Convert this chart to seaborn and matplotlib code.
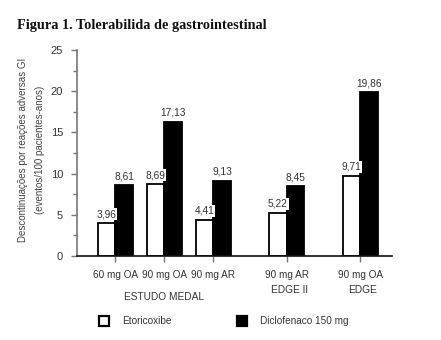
import matplotlib
matplotlib.use("Agg")
import matplotlib.pyplot as plt
import seaborn as sns
import pandas as pd
from matplotlib.lines import Line2D
from matplotlib.transforms import blended_transform_factory

# ---- data ----
groups = ["60 mg OA", "90 mg OA", "90 mg AR", "90 mg AR", "90 mg OA"]
group_pos = [0, 1, 2, 3.5, 5]
etoricoxibe = [3.96, 8.69, 4.41, 5.22, 9.71]
diclofenaco = [8.61, 16.3, 9.13, 8.45, 19.86]
etori_labels = ["3,96", "8,69", "4,41", "5,22", "9,71"]
diclo_labels = ["8,61", "17,13", "9,13", "8,45", "19,86"]
studies = ["ESTUDO MEDAL", "EDGE II", "EDGE"]
study_pos = [1, 3.55, 5.05]
study_y = [-0.20, -0.165, -0.165]
series = ["Etoricoxibe", "Diclofenaco 150 mg"]
yticks = [0, 5, 10, 15, 20, 25]

df = pd.DataFrame({
    "pos": group_pos * 2,
    "val": etoricoxibe + diclofenaco,
    "drug": [series[0]] * len(group_pos) + [series[1]] * len(group_pos),
})

sns.set_theme(style="white")
plt.rcParams["font.family"] = ["Liberation Sans", "DejaVu Sans"]

fig = plt.figure(figsize=(4.41, 3.40), dpi=100)
ax = fig.add_axes([77 / 441, 1 - 256 / 340, (392 - 77) / 441, (256 - 50) / 340])

sns.barplot(data=df, x="pos", y="val", hue="drug", native_scale=True,
            palette={series[0]: "white", series[1]: "black"},
            edgecolor="black", linewidth=1.3, width=0.72, ax=ax,
            legend=False, errorbar=None)

ax.set_xlim(-0.78, 5.65)
ax.set_ylim(0, 25)
ax.set_yticks(yticks)
ax.set_yticks([v + 2.5 for v in yticks[:-1]], minor=True)
ax.set_xticks(group_pos)
ax.set_xticklabels(groups)
ax.set_xlabel("")
ax.set_ylabel("")
for s in ["top", "right"]:
    ax.spines[s].set_visible(False)
ax.spines["left"].set_color("#777777")
ax.spines["left"].set_linewidth(1.2)
ax.spines["bottom"].set_color("#111111")
ax.spines["bottom"].set_linewidth(1.2)
ax.tick_params(axis="y", which="major", left=True, length=4, width=1, color="#777777",
               labelsize=8, labelcolor="#333333", pad=6)
ax.tick_params(axis="y", which="minor", left=True, length=3, width=1, color="#777777")
ax.tick_params(axis="x", bottom=True, length=4, width=1, color="#777777",
               labelsize=7.2, labelcolor="#333333", pad=6)

# value labels from the drawn bars
labels = etori_labels + diclo_labels
for patch, lab in zip(ax.patches, labels):
    x = patch.get_x() + patch.get_width() / 2
    h = patch.get_height()
    ax.annotate(lab, (x, h), xytext=(0, 9), textcoords="offset pixels",
                ha="center", va="center", fontsize=7.3, color="#333333",
                bbox=dict(boxstyle="square,pad=0.1", fc="white", ec="none"))

tr = blended_transform_factory(ax.transData, ax.transAxes)
for name, xp, yp in zip(studies, study_pos, study_y):
    ax.text(xp, yp, name, transform=tr, ha="center", va="center",
            fontsize=7.3, color="#333333")

# y label (two lines)
fig.text(23 / 441, 1 - 150 / 340, "Descontinuações por reações adversas GI",
         rotation=90, ha="center", va="center", fontsize=7, color="#444444")
fig.text(40 / 441, 1 - 150 / 340, "(eventos/100 pacientes-anos)",
         rotation=90, ha="center", va="center", fontsize=7, color="#444444")

# title
fig.text(17 / 441, 1 - 26 / 340, "Figura 1. Tolerabilida de gastrointestinal",
         ha="left", va="center", fontsize=10.3, fontweight="bold",
         family=["Liberation Serif", "DejaVu Serif"], color="#111111")

handles = [
    Line2D([], [], ls="none", marker="s", markersize=7, markerfacecolor="white",
           markeredgecolor="black", markeredgewidth=1.6),
    Line2D([], [], ls="none", marker="s", markersize=7, markerfacecolor="black",
           markeredgecolor="black", markeredgewidth=1.6),
]
fig.legend(handles, series, loc="center left", bbox_to_anchor=(99 / 441, 1 - 321 / 340),
           ncol=2, frameon=False, fontsize=7.2, handlelength=1.0, handletextpad=1.3,
           columnspacing=6.6, labelcolor="#333333", borderpad=0, borderaxespad=0)

fig.savefig("out.png", dpi=100, facecolor="white")
